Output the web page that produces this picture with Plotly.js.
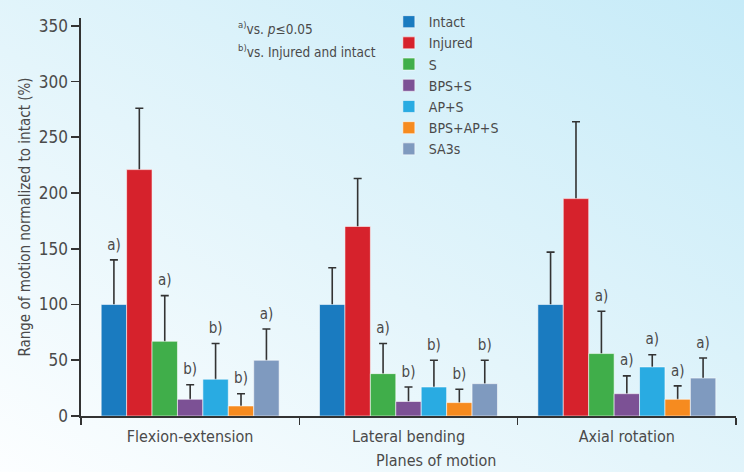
<!DOCTYPE html>
<html>
<head>
<meta charset="utf-8">
<script src="https://cdn.plot.ly/plotly-3.0.1.min.js"></script>
<style>
html,body{margin:0;padding:0;}
body{width:744px;height:472px;background:linear-gradient(to top right,#fcfeff 0%,#e4f5fb 45%,#c6ebf8 100%);}
#chart{width:744px;height:472px;}
</style>
</head>
<body>
<div id="chart"></div>
<script>
var categories = ["Flexion-extension", "Lateral bending", "Axial rotation"];
var seriesNames = ["Intact", "Injured", "S", "BPS+S", "AP+S", "BPS+AP+S", "SA3s"];
var colors = ["#1a7bc0", "#d6222c", "#40ae4a", "#7c5195", "#29abe2", "#f68b1f", "#7f9abf"];

var intact   = [100, 100, 100];
var injured  = [221, 170, 195];
var sOnly    = [67, 38, 56];
var bpsS     = [15, 13, 20];
var apS      = [33, 26, 44];
var bpsApS   = [9, 12, 15];
var sa3s     = [50, 29, 34];

var intactErr  = [40, 33, 47];
var injuredErr = [55, 43, 69];
var sOnlyErr   = [41, 27, 38];
var bpsSErr    = [13, 13, 16];
var apSErr     = [32, 24, 11];
var bpsApSErr  = [11, 12, 12];
var sa3sErr    = [28, 21, 18];

var intactSig  = ["a)", "", ""];
var injuredSig = ["", "", ""];
var sOnlySig   = ["a)", "a)", "a)"];
var bpsSSig    = ["b)", "b)", "a)"];
var apSSig     = ["b)", "b)", "a)"];
var bpsApSSig  = ["b)", "b)", "a)"];
var sa3sSig    = ["a)", "b)", "a)"];

var values = [intact, injured, sOnly, bpsS, apS, bpsApS, sa3s];
var errs = [intactErr, injuredErr, sOnlyErr, bpsSErr, apSErr, bpsApSErr, sa3sErr];
var sigs = [intactSig, injuredSig, sOnlySig, bpsSSig, apSSig, bpsApSSig, sa3sSig];

var fontFam = "'Liberation Sans Narrow','DejaVu Sans Condensed','Roboto Condensed',Roboto,sans-serif";
var textCol = "#4a4a4a";
var gap = 0.185;

var traces = [];
// error bars first (transparent bars), so the coloured bars cover their lower half
seriesNames.forEach(function(name, i){
  traces.push({
    type: "bar",
    name: name + " err",
    x: categories,
    y: values[i],
    offsetgroup: String(i),
    marker: {color: "rgba(0,0,0,0)", line: {width: 0}},
    error_y: {type: "data", array: errs[i], symmetric: true, color: "#333", thickness: 1.6, width: 4},
    showlegend: false,
    hoverinfo: "skip"
  });
});
seriesNames.forEach(function(name, i){
  traces.push({
    type: "bar",
    name: name,
    x: categories,
    y: values[i],
    offsetgroup: String(i),
    marker: {color: colors[i], line: {color: "rgba(255,255,255,0.55)", width: 1}},
    hoverinfo: "skip"
  });
});
seriesNames.forEach(function(name, i){
  if (sigs[i].every(function(s){return !s;})) return;
  traces.push({
    type: "scatter",
    mode: "markers+text",
    x: categories,
    y: values[i].map(function(v, k){return sigs[i][k] ? v + errs[i][k] : null;}),
    text: sigs[i],
    textposition: "top center",
    textfont: {family: fontFam, size: 15, color: textCol},
    marker: {size: 9, color: "rgba(0,0,0,0)"},
    offsetgroup: String(i),
    showlegend: false,
    hoverinfo: "skip",
    cliponaxis: false
  });
});

var layout = {
  width: 744, height: 472,
  paper_bgcolor: "rgba(0,0,0,0)",
  plot_bgcolor: "rgba(0,0,0,0)",
  margin: {l: 81, r: 8, t: 18, b: 56, autoexpand: false},
  barmode: "group",
  bargap: gap,
  bargroupgap: 0,
  scattermode: "group",
  scattergap: gap,
  font: {family: fontFam, color: textCol, size: 16},
  showlegend: true,
  legend: {x: 0.47, y: 1.03, xanchor: "left", yanchor: "top", bgcolor: "rgba(0,0,0,0)",
           font: {family: fontFam, size: 14, color: textCol}, tracegroupgap: 0, itemwidth: 30},
  xaxis: {
    type: "category",
    showline: true, linecolor: "#333", linewidth: 1.6,
    ticks: "outside", tickson: "boundaries", ticklen: 7, tickcolor: "#333", tickwidth: 1.6,
    ticklabelstandoff: 5,
    tickfont: {family: fontFam, size: 16, color: textCol},
    showgrid: false, zeroline: false
  },
  yaxis: {
    range: [0, 357],
    tickvals: [0, 50, 100, 150, 200, 250, 300, 350],
    showline: true, linecolor: "#333", linewidth: 1.6,
    ticks: "outside", ticklen: 8, tickcolor: "#333", tickwidth: 1.6,
    tickfont: {family: fontFam, size: 17, color: textCol},
    showgrid: false, zeroline: false,
    title: {text: "Range of motion normalized to intact (%)", font: {family: fontFam, size: 15, color: textCol}, standoff: 4}
  },
  annotations: [
    {xref: "paper", yref: "paper", x: 0.542, y: -0.113, xanchor: "center", yanchor: "middle", showarrow: false,
     text: "Planes of motion", font: {family: fontFam, size: 16, color: textCol}},
    {xref: "paper", yref: "paper", x: 0.236, y: 0.975, xanchor: "left", yanchor: "middle", showarrow: false, align: "left",
     text: "<sup>a)</sup>vs. <i>p</i>≤0.05",
     font: {family: fontFam, size: 13.5, color: textCol}},
    {xref: "paper", yref: "paper", x: 0.236, y: 0.917, xanchor: "left", yanchor: "middle", showarrow: false, align: "left",
     text: "<sup>b)</sup>vs. Injured and intact",
     font: {family: fontFam, size: 13.5, color: textCol}}
  ]
};

Plotly.newPlot("chart", traces, layout, {displayModeBar: false, staticPlot: true});
</script>
</body>
</html>
